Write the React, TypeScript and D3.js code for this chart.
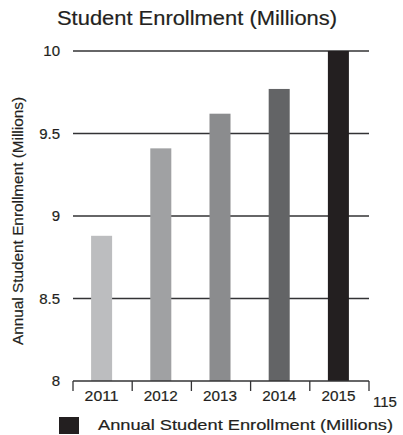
import React from "react";
import * as d3 from "d3";

const years = ["2011", "2012", "2013", "2014", "2015"];
const enrollment = [8.88, 9.41, 9.62, 9.77, 10.0];
const barColors = ["#bcbdbf", "#a0a1a3", "#8b8c8e", "#636466", "#231f20"];
const yTicks = [8, 8.5, 9, 9.5, 10];
const yTickLabels = ["8", "8.5", "9", "9.5", "10"];
const title = "Student Enrollment (Millions)";
const yTitle = "Annual Student Enrollment (Millions)";
const legendLabel = "Annual Student Enrollment (Millions)";
const pageNumber = "115";

const W = 403;
const H = 435;
const FONT = "'Liberation Sans', Arial, Helvetica, sans-serif";
const INK = "#231f20";

export default function App() {
  const left = 73;
  const right = 369;
  const top = 51;
  const bottom = 381;

  const x = d3.scaleBand<string>().domain(years).range([left, right]).padding(0);
  const y = d3.scaleLinear().domain([8, 10]).range([bottom, top]);
  const bw = x.bandwidth();
  const barW = bw * 0.355;

  const boundaries = years.map((yr) => x(yr)!).concat([right]);
  const textStyle = { stroke: INK, strokeWidth: 0.2 };

  return (
    <svg
      width={W}
      height={H}
      style={{ position: "absolute", left: 0, top: 0, background: "#fff" }}
      fontFamily={FONT}
    >
      <text
        x={57}
        y={25}
        fontSize={20.5}
        fill={INK}
        textLength={280}
        lengthAdjust="spacingAndGlyphs"
        style={textStyle}
      >
        {title}
      </text>

      {yTicks.slice(1).map((t) => (
        <line
          key={"g" + t}
          x1={left}
          x2={right}
          y1={y(t)}
          y2={y(t)}
          stroke="#333335"
          strokeWidth={1.3}
        />
      ))}

      {yTicks.map((t, i) => (
        <text
          key={"yl" + t}
          x={60}
          y={y(t)}
          dy="0.36em"
          textAnchor="end"
          fontSize={15}
          fill={INK}
          style={textStyle}
        >
          {yTickLabels[i]}
        </text>
      ))}

      <text
        transform={`translate(23,${(top + bottom) / 2 + 5}) rotate(-90)`}
        textAnchor="middle"
        fontSize={15}
        fill={INK}
        textLength={248}
        lengthAdjust="spacingAndGlyphs"
        style={textStyle}
      >
        {yTitle}
      </text>

      {years.map((yr, i) => (
        <rect
          key={"b" + yr}
          x={x(yr)! + (bw - barW) / 2 - 1}
          y={y(enrollment[i])}
          width={barW}
          height={y(8) - y(enrollment[i])}
          fill={barColors[i]}
        />
      ))}

      <line x1={left} x2={right} y1={bottom} y2={bottom} stroke="#333335" strokeWidth={1.3} />
      {boundaries.map((b, i) => (
        <line
          key={"t" + i}
          x1={b}
          x2={b}
          y1={bottom}
          y2={bottom + 10}
          stroke="#333335"
          strokeWidth={1.3}
        />
      ))}

      {years.map((yr) => (
        <text
          key={"xl" + yr}
          x={x(yr)! + bw / 2 - 1}
          y={401}
          textAnchor="middle"
          fontSize={15}
          fill={INK}
          textLength={34}
          lengthAdjust="spacingAndGlyphs"
          style={textStyle}
        >
          {yr}
        </text>
      ))}

      <text x={373} y={407} fontSize={15} fill={INK} style={textStyle}>
        {pageNumber}
      </text>

      <rect x={59} y={417} width={20} height={17} fill={INK} />
      <text
        x={98}
        y={430}
        fontSize={15}
        fill={INK}
        textLength={295}
        lengthAdjust="spacingAndGlyphs"
        style={textStyle}
      >
        {legendLabel}
      </text>
    </svg>
  );
}
